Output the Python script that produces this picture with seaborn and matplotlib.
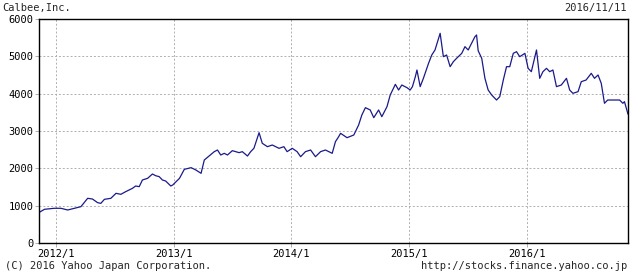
import matplotlib
matplotlib.use("Agg")
import matplotlib.pyplot as plt
import seaborn as sns
import pandas as pd

title_left = "Calbee,Inc."
title_right = "2016/11/11"
footer_left = "(C) 2016 Yahoo Japan Corporation."
footer_right = "http://stocks.finance.yahoo.co.jp"

dates = [
    "2011-11-11", "2011-11-27", "2011-12-28", "2012-01-17", "2012-02-07", "2012-02-28",
    "2012-03-19", "2012-04-09", "2012-04-24", "2012-05-10", "2012-05-20", "2012-05-31",
    "2012-06-20", "2012-07-06", "2012-07-21", "2012-08-05", "2012-08-26", "2012-09-05",
    "2012-09-16", "2012-09-26", "2012-10-12", "2012-10-27", "2012-11-06", "2012-11-17",
    "2012-11-27", "2012-12-07", "2012-12-23", "2012-12-29", "2013-01-19", "2013-02-03",
    "2013-02-24", "2013-03-11", "2013-03-27", "2013-04-06", "2013-04-21", "2013-05-07",
    "2013-05-17", "2013-05-27", "2013-06-07", "2013-06-17", "2013-07-02", "2013-07-23",
    "2013-08-02", "2013-08-18", "2013-08-28", "2013-09-07", "2013-09-23", "2013-10-03",
    "2013-10-19", "2013-11-03", "2013-11-24", "2013-12-09", "2013-12-19", "2014-01-04",
    "2014-01-19", "2014-01-30", "2014-02-14", "2014-03-02", "2014-03-17", "2014-04-02",
    "2014-04-17", "2014-05-08", "2014-05-18", "2014-05-28", "2014-06-03", "2014-06-23",
    "2014-07-14", "2014-07-29", "2014-08-08", "2014-08-19", "2014-09-03", "2014-09-14",
    "2014-09-29", "2014-10-09", "2014-10-25", "2014-11-04", "2014-11-20", "2014-11-30",
    "2014-12-10", "2014-12-26", "2015-01-05", "2015-01-12", "2015-01-21", "2015-01-26",
    "2015-02-05", "2015-02-15", "2015-03-03", "2015-03-13", "2015-03-23", "2015-04-08",
    "2015-04-18", "2015-04-28", "2015-05-09", "2015-05-19", "2015-05-29", "2015-06-14",
    "2015-06-24", "2015-07-04", "2015-07-20", "2015-07-25", "2015-07-30", "2015-08-04",
    "2015-08-15", "2015-08-25", "2015-09-04", "2015-09-15", "2015-09-30", "2015-10-10",
    "2015-10-21", "2015-10-31", "2015-11-10", "2015-11-21", "2015-12-01", "2015-12-11",
    "2015-12-27", "2016-01-06", "2016-01-16", "2016-01-27", "2016-02-01", "2016-02-11",
    "2016-02-21", "2016-03-03", "2016-03-13", "2016-03-23", "2016-04-03", "2016-04-18",
    "2016-05-04", "2016-05-14", "2016-05-24", "2016-06-09", "2016-06-19", "2016-07-04",
    "2016-07-20", "2016-07-30", "2016-08-10", "2016-08-20", "2016-08-30", "2016-09-09",
    "2016-09-30", "2016-10-16", "2016-10-26", "2016-10-31", "2016-11-11",
]
prices = [
    822, 903, 930, 930, 884, 930,
    973, 1197, 1178, 1080, 1062, 1170,
    1197, 1331, 1304, 1375, 1464, 1527,
    1509, 1688, 1732, 1848, 1803, 1777,
    1688, 1661, 1527, 1553, 1732, 1973,
    2018, 1955, 1866, 2223, 2330, 2447,
    2491, 2357, 2402, 2357, 2473, 2420,
    2447, 2330, 2447, 2536, 2955, 2670,
    2580, 2625, 2536, 2580, 2447, 2536,
    2447, 2312, 2447, 2491, 2312, 2447,
    2491, 2402, 2714, 2848, 2938, 2821,
    2893, 3161, 3429, 3625, 3563, 3357,
    3563, 3384, 3652, 3964, 4250, 4098,
    4232, 4161, 4098, 4188, 4455, 4634,
    4188, 4411, 4813, 5036, 5170, 5617,
    4991, 5036, 4723, 4857, 4947, 5080,
    5259, 5170, 5438, 5527, 5572, 5150,
    4947, 4411, 4098, 3964, 3830, 3920,
    4366, 4723, 4723, 5080, 5125, 4991,
    5080, 4679, 4589, 4991, 5170, 4411,
    4589, 4679, 4589, 4634, 4188, 4232,
    4411, 4098, 4009, 4054, 4321, 4366,
    4545, 4411, 4500, 4277, 3742, 3830,
    3830, 3830, 3742, 3786, 3450,
]
y_ticks = [0, 1000, 2000, 3000, 4000, 5000, 6000]
x_tick_dates = ["2012-01-01", "2013-01-01", "2014-01-01", "2015-01-01", "2016-01-01"]
x_tick_labels = ["2012/1", "2013/1", "2014/1", "2015/1", "2016/1"]

df = pd.DataFrame({"date": pd.to_datetime(dates), "price": prices})

sns.set_style("white")
plt.rcParams["font.family"] = ["DejaVu Sans Mono", "DejaVu Sans"]

fig = plt.figure(figsize=(6.3, 2.73), dpi=100)
ax = fig.add_axes([39 / 630, 1 - 243 / 273, 589 / 630, 224 / 273])

sns.lineplot(data=df, x="date", y="price", ax=ax, color="#1a1a8a", linewidth=0.9)

ax.set_xlim(pd.Timestamp("2011-11-10"), pd.Timestamp("2016-11-11"))
ax.set_ylim(0, 6000)
ax.set_yticks(y_ticks)
ax.set_yticklabels([str(v) for v in y_ticks])
ax.set_xticks(pd.to_datetime(x_tick_dates))
ax.set_xticklabels(x_tick_labels)
ax.set_xlabel("")
ax.set_ylabel("")

ax.grid(True, color="#b0b0b0", linestyle=(0, (2, 2)), linewidth=0.7)
ax.set_axisbelow(True)
for s in ax.spines.values():
    s.set_color("black")
    s.set_linewidth(1.0)
ax.tick_params(axis="both", direction="out", length=3, width=0.7, color="#b0b0b0",
               labelsize=7.5, labelcolor="black", pad=1)
ax.tick_params(axis="y", left=True)
ax.tick_params(axis="x", bottom=True)

fig.text(2 / 630, 1 - 8 / 273, title_left, fontsize=7.5, va="center", ha="left")
fig.text(627 / 630, 1 - 8 / 273, title_right, fontsize=7.5, va="center", ha="right")
fig.text(5 / 630, 1 - 266 / 273, footer_left, fontsize=7.5, va="center", ha="left")
fig.text(627 / 630, 1 - 266 / 273, footer_right, fontsize=7.5, va="center", ha="right")

fig.savefig("out.png", dpi=100, facecolor="white")
